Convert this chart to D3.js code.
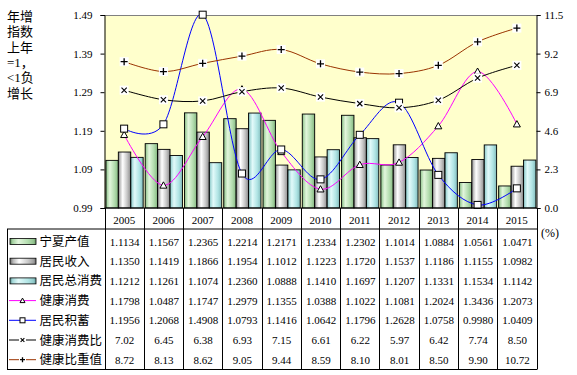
<!DOCTYPE html>
<html lang="zh">
<head>
    <meta charset="UTF-8">
    <title>宁夏健康消费</title>
    <script src="https://cdn.jsdelivr.net/npm/d3@7"></script>
    <style>
        body{
            margin:0;
            background-color:#ffffff;
        }
        .txt{
            font-family:"Liberation Serif","Noto Sans CJK SC",serif;
            font-size:11px;
            fill:#000;
        }
        .cjk{
            font-family:"Liberation Serif","Noto Sans CJK SC",sans-serif;
            font-size:12.5px;
            fill:#000;
        }
    </style>
</head>
<body>
<div id="grafico"></div>
<script>
var years = ["2005","2006","2007","2008","2009","2010","2011","2012","2013","2014","2015"];
var chanzhi = [1.1134,1.1567,1.2365,1.2214,1.2171,1.2334,1.2302,1.1014,1.0884,1.0561,1.0471];
var shouru = [1.1350,1.1419,1.1866,1.1954,1.1012,1.1223,1.1720,1.1537,1.1186,1.1155,1.0982];
var zongxiaofei = [1.1212,1.1261,1.1074,1.2360,1.0888,1.1410,1.1697,1.1207,1.1331,1.1534,1.1142];
var jiankang = [1.1798,1.0487,1.1747,1.2979,1.1355,1.0388,1.1022,1.1081,1.2024,1.3436,1.2073];
var jixu = [1.1956,1.2068,1.4908,1.0793,1.1416,1.0642,1.1796,1.2628,1.0758,0.9980,1.0409];
var xiaofeibi = [7.02,6.45,6.38,6.93,7.15,6.61,6.22,5.97,6.42,7.74,8.50];
var bizhong = [8.72,8.13,8.62,9.05,9.44,8.59,8.10,8.01,8.50,9.90,10.72];
var leftTicks = [0.99,1.09,1.19,1.29,1.39,1.49];
var rightTicks = [0,2.3,4.6,6.9,9.2,11.5];
var titleLines = ["年增","指数","上年","=1，","<1负","增长"];

var w = 577, h = 375;
var pLeft = 104.5, pRight = 536.5, pTop = 15, pBottom = 208;

var svg = d3.select("#grafico").append("svg")
    .attr("width", w)
    .attr("height", h);

var defs = svg.append("defs");
function grad(id, stops){
    var g = defs.append("linearGradient").attr("id", id)
        .attr("x1","0%").attr("x2","100%").attr("y1","0%").attr("y2","0%");
    stops.forEach(function(s){
        g.append("stop").attr("offset", s[0]).attr("stop-color", s[1]);
    });
}
grad("gGreen", [["0%","#5f8f5f"],["10%","#a6d2a2"],["32%","#e2f6dc"],["70%","#b2dcae"],["90%","#94c490"],["100%","#6c9a68"]]);
grad("gGray", [["0%","#6a6a6a"],["12%","#b8b8b8"],["35%","#ffffff"],["70%","#c8c8c8"],["90%","#a0a0a0"],["100%","#707070"]]);
grad("gCyan", [["0%","#5a8c8c"],["10%","#a4d8d8"],["32%","#e2fafa"],["70%","#b0e4e4"],["90%","#92caca"],["100%","#68a0a0"]]);
defs.append("clipPath").attr("id","clip")
    .append("rect").attr("x", pLeft).attr("y", pTop - 1).attr("width", pRight - pLeft).attr("height", pBottom - pTop + 1);

var xScale = d3.scaleBand().domain(years).range([pLeft, pRight]);
var bw = xScale.bandwidth();
var barSeries = [
    {name:"宁夏产值", values:chanzhi, fill:"url(#gGreen)"},
    {name:"居民收入", values:shouru, fill:"url(#gGray)"},
    {name:"居民总消费", values:zongxiaofei, fill:"url(#gCyan)"}
];
var x1 = d3.scaleBand().domain(d3.range(3)).range([1.4, bw - 0.6]);
var yL = d3.scaleLinear().domain([0.99, 1.49]).range([pBottom, pTop]);
var yR = d3.scaleLinear().domain([0, 11.5]).range([pBottom, pTop]);

var lineSeries = [
    {name:"健康消费", values:jiankang, color:"#ff00ff", marker:"tri", y:yL},
    {name:"居民积蓄", values:jixu, color:"#0000ff", marker:"sq", y:yL},
    {name:"健康消费比", values:xiaofeibi, color:"#000000", marker:"x", y:yR},
    {name:"健康比重值", values:bizhong, color:"#993300", marker:"plus", y:yR}
];

// plot area
svg.append("rect")
    .attr("x", pLeft).attr("y", pTop)
    .attr("width", pRight - pLeft).attr("height", pBottom - pTop)
    .attr("fill", "#ffffcc");
svg.append("line")
    .attr("x1", pLeft).attr("x2", pRight).attr("y1", pTop + 0.5).attr("y2", pTop + 0.5)
    .attr("stroke", "#808080");

// bars
barSeries.forEach(function(s, i){
    svg.append("g").selectAll("rect")
        .data(s.values)
        .enter()
        .append("rect")
        .attr("x", function(d, j){ return xScale(years[j]) + x1(i); })
        .attr("y", function(d){ return yL(d); })
        .attr("width", x1.bandwidth())
        .attr("height", function(d){ return pBottom - yL(d); })
        .attr("fill", s.fill)
        .attr("stroke", "#000")
        .attr("stroke-width", 0.9);
});

// markers
function drawMarker(g, type, x, y, size){
    var r = size / 2;
    if(type == "tri"){
        g.append("path")
            .attr("d", "M" + x + "," + (y - r) + "L" + (x + r) + "," + (y + r * 0.8) + "L" + (x - r) + "," + (y + r * 0.8) + "Z")
            .attr("fill", "#fff").attr("stroke", "#000").attr("stroke-width", 1);
    } else if(type == "sq"){
        g.append("rect").attr("x", x - r).attr("y", y - r).attr("width", size).attr("height", size)
            .attr("fill", "#fff").attr("stroke", "#000").attr("stroke-width", 1);
    } else {
        g.append("rect").attr("x", x - r - 1).attr("y", y - r - 1).attr("width", size + 2).attr("height", size + 2)
            .attr("fill", "#fff");
        var a = r * 0.75;
        if(type == "x"){
            g.append("path").attr("d", "M" + (x - a) + "," + (y - a) + "L" + (x + a) + "," + (y + a) + "M" + (x + a) + "," + (y - a) + "L" + (x - a) + "," + (y + a))
                .attr("stroke", "#000").attr("stroke-width", 1.1);
        } else {
            g.append("path").attr("d", "M" + (x - r) + "," + y + "L" + (x + r) + "," + y + "M" + x + "," + (y - r) + "L" + x + "," + (y + r))
                .attr("stroke", "#000").attr("stroke-width", 1.3);
        }
    }
}

// lines
var lineG = svg.append("g").attr("clip-path", "url(#clip)");
lineSeries.forEach(function(s){
    var line = d3.line()
        .x(function(d, j){ return xScale(years[j]) + bw / 2; })
        .y(function(d){ return s.y(d); })
        .curve(d3.curveCardinal.tension(0));
    lineG.append("path")
        .attr("d", line(s.values))
        .attr("fill", "none")
        .attr("stroke", s.color)
        .attr("stroke-width", 1);
});
var markG = svg.append("g");
lineSeries.forEach(function(s){
    s.values.forEach(function(d, j){
        drawMarker(markG, s.marker, xScale(years[j]) + bw / 2, s.y(d), 7);
    });
});

// axes
var axL = svg.append("g").attr("transform", "translate(" + pLeft + ",0)")
    .call(d3.axisLeft(yL).tickValues(leftTicks).tickSize(4).tickFormat(d3.format(".2f")));
var axR = svg.append("g").attr("transform", "translate(" + pRight + ",0)")
    .call(d3.axisRight(yR).tickValues(rightTicks).tickSize(4).tickFormat(d3.format(".1f")));
[axL, axR].forEach(function(ax){
    ax.attr("font-family", null).attr("font-size", null);
    ax.select(".domain").attr("stroke", "#000");
    ax.selectAll("line").attr("stroke", "#000");
    ax.selectAll("text").attr("class", "txt").attr("fill", "#000");
});
axL.selectAll("text").attr("x", -12);
axR.selectAll("text").attr("x", 8);

// title on the left
svg.selectAll(".title")
    .data(titleLines)
    .enter()
    .append("text")
    .attr("class", "cjk")
    .style("font-size", "13px")
    .attr("x", 7)
    .attr("y", function(d, i){ return 21 + i * 15.3; })
    .text(function(d){ return d; });

svg.append("text").attr("class", "txt")
    .style("font-size", "12px")
    .attr("x", 550).attr("y", 237)
    .attr("text-anchor", "middle")
    .text("(%)");

// data table
var tableTop = 229, tableBottom = 369.5, rowH = 19.7;
var grid = svg.append("g").attr("stroke", "#000").attr("stroke-width", 1);
grid.append("line").attr("x1", pLeft).attr("x2", pRight + 0.5).attr("y1", pBottom).attr("y2", pBottom);
grid.append("line").attr("x1", 7).attr("x2", pRight + 0.5).attr("y1", tableTop).attr("y2", tableTop);
grid.append("line").attr("x1", 7).attr("x2", pRight + 0.5).attr("y1", tableBottom).attr("y2", tableBottom);
grid.append("line").attr("x1", 7.5).attr("x2", 7.5).attr("y1", tableTop).attr("y2", tableBottom);
grid.selectAll(".v")
    .data(d3.range(years.length + 1))
    .enter()
    .append("line")
    .attr("x1", function(i){ return Math.round(pLeft + i * bw) + 0.5; })
    .attr("x2", function(i){ return Math.round(pLeft + i * bw) + 0.5; })
    .attr("y1", pBottom)
    .attr("y2", tableBottom);

svg.selectAll(".year")
    .data(years)
    .enter()
    .append("text")
    .attr("class", "txt")
    .attr("x", function(d){ return xScale(d) + bw / 2; })
    .attr("y", 224)
    .attr("text-anchor", "middle")
    .text(function(d){ return d; });

var rows = barSeries.concat(lineSeries);
rows.forEach(function(s, i){
    var cy = tableTop + 12.5 + i * rowH;
    var isBar = i < 3;
    svg.append("g").selectAll("text")
        .data(s.values)
        .enter()
        .append("text")
        .attr("class", "txt")
        .attr("x", function(d, j){ return xScale(years[j]) + bw / 2 + 0.5; })
        .attr("y", cy + 4)
        .attr("text-anchor", "middle")
        .text(function(d){ return s.y === yR ? d3.format(".2f")(d) : d3.format(".4f")(d); });
    if(isBar){
        svg.append("rect")
            .attr("x", 10).attr("y", cy - 3)
            .attr("width", 26).attr("height", 6)
            .attr("fill", s.fill).attr("stroke", "#000").attr("stroke-width", 0.8);
    } else {
        svg.append("line")
            .attr("x1", 9).attr("x2", 36).attr("y1", cy).attr("y2", cy)
            .attr("stroke", s.color);
        drawMarker(svg, s.marker, 22.5, cy, 5);
    }
    svg.append("text")
        .attr("class", "cjk")
        .attr("x", 39.5)
        .attr("y", cy + 4.5)
        .text(s.name);
});
</script>
</body>
</html>
